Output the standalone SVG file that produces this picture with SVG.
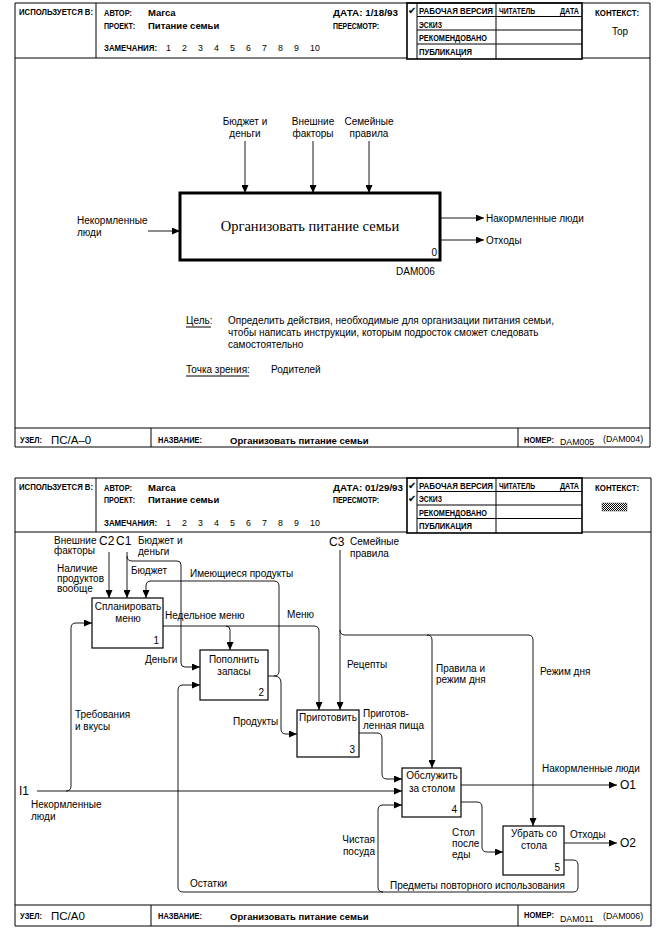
<svg xmlns="http://www.w3.org/2000/svg" width="663" height="937" viewBox="0 0 663 937">
<style>
.ln{fill:none;stroke:#000;stroke-width:1}
.tk{fill:none;stroke:#000;stroke-width:1.6}
.bx{fill:#fff;stroke:#000;stroke-width:1.2}
.cn{fill:none;stroke:#000;stroke-width:0.9}
.h{font-family:"Liberation Sans",Arial,sans-serif;font-weight:bold;font-size:8.8px;fill:#000}
.v{font-family:"Liberation Sans",Arial,sans-serif;font-weight:bold;font-size:9.5px;fill:#000}
.n{font-family:"Liberation Sans",Arial,sans-serif;font-size:8.8px;fill:#000}
.l{font-family:"Liberation Sans",Arial,sans-serif;font-size:10px;fill:#000}
.b{font-family:"Liberation Sans",Arial,sans-serif;font-size:10px;fill:#000;text-anchor:middle}
.num{font-family:"Liberation Sans",Arial,sans-serif;font-size:10px;fill:#000;text-anchor:end}
.c{font-family:"Liberation Sans",Arial,sans-serif;font-size:12px;fill:#000}
.ck{font-family:"DejaVu Sans",sans-serif;font-size:10px;fill:#000}
.big{font-family:"Liberation Sans",Arial,sans-serif;font-size:11.5px;fill:#000}
</style>
<defs>
<marker id="ah" markerWidth="8" markerHeight="7" refX="8" refY="3.5" orient="auto" markerUnits="userSpaceOnUse">
<path d="M0,0 L8,3.5 L0,7 z" fill="#000"/>
</marker>
<pattern id="hatch" width="2" height="2" patternUnits="userSpaceOnUse">
<rect width="2" height="2" fill="#fff"/>
<rect width="1" height="1" fill="#000"/>
<rect x="1" y="1" width="1" height="1" fill="#000"/>
</pattern>
</defs>
<rect width="663" height="937" fill="#fff"/>

<!-- ===== TOP SHEET ===== -->
<g id="sheet1-frame">
<path class="ln" d="M15,3 H650 V447 H15 Z"/>
<path class="ln" d="M96,3 V58 M15,58 H407 M582,58 H650"/>
<rect class="tk" x="407" y="3" width="175" height="56"/>
<path class="ln" d="M417,3 V59 M496,3 V59 M417,16.5 H582 M417,30 H582 M417,44 H582"/>
<path class="ln" d="M15,428 H650 M151,428 V447 M518,428 V447"/>
</g>
<g id="sheet1-header">
<text class="h" x="19" y="15" textLength="74" lengthAdjust="spacingAndGlyphs">ИСПОЛЬЗУЕТСЯ В:</text>
<text class="h" x="104" y="16" textLength="28" lengthAdjust="spacingAndGlyphs">АВТОР:</text>
<text class="v" x="148" y="16">Marca</text>
<text class="h" x="104" y="29" textLength="31" lengthAdjust="spacingAndGlyphs">ПРОЕКТ:</text>
<text class="v" x="148" y="29">Питание семьи</text>
<text class="h" x="104" y="51" textLength="53" lengthAdjust="spacingAndGlyphs">ЗАМЕЧАНИЯ:</text>
<text class="n" y="51"><tspan x="166">1</tspan><tspan x="182">2</tspan><tspan x="198">3</tspan><tspan x="214">4</tspan><tspan x="230">5</tspan><tspan x="246">6</tspan><tspan x="262">7</tspan><tspan x="278">8</tspan><tspan x="294">9</tspan><tspan x="310">10</tspan></text>
<text class="h" x="333" y="16" textLength="65" lengthAdjust="spacingAndGlyphs">ДАТА: 1/18/93</text>
<text class="h" x="333" y="29" textLength="46" lengthAdjust="spacingAndGlyphs">ПЕРЕСМОТР:</text>
<text class="ck" x="408" y="14">✔</text>
<text class="h" x="419" y="14" textLength="74" lengthAdjust="spacingAndGlyphs">РАБОЧАЯ ВЕРСИЯ</text>
<text class="h" x="419" y="27.5" textLength="23" lengthAdjust="spacingAndGlyphs">ЭСКИЗ</text>
<text class="h" x="419" y="41" textLength="68" lengthAdjust="spacingAndGlyphs">РЕКОМЕНДОВАНО</text>
<text class="h" x="419" y="55" textLength="53" lengthAdjust="spacingAndGlyphs">ПУБЛИКАЦИЯ</text>
<text class="h" x="499" y="14" textLength="36" lengthAdjust="spacingAndGlyphs">ЧИТАТЕЛЬ</text>
<text class="h" x="560" y="14" textLength="19" lengthAdjust="spacingAndGlyphs">ДАТА</text>
<text class="h" x="595" y="16" textLength="44" lengthAdjust="spacingAndGlyphs">КОНТЕКСТ:</text>
<text class="l" x="612" y="35" font-size="9">Top</text>
</g>
<g id="sheet1-footer">
<text class="h" x="20" y="443" textLength="22" lengthAdjust="spacingAndGlyphs">УЗЕЛ:</text>
<text class="big" x="51" y="444">ПС/А–0</text>
<text class="h" x="158" y="443" textLength="44" lengthAdjust="spacingAndGlyphs">НАЗВАНИЕ:</text>
<text class="v" x="230" y="444">Организовать питание семьи</text>
<text class="h" x="524" y="443" textLength="30" lengthAdjust="spacingAndGlyphs">НОМЕР:</text>
<text class="n" x="560" y="445" font-size="9.5">DAM005</text>
<text class="n" x="603" y="442">(DAM004)</text>
</g>
<g id="node-A0">
<rect x="180" y="193" width="260" height="67" fill="#fff" stroke="#000" stroke-width="3"/>
<text x="310" y="231" font-family="Liberation Serif,'Times New Roman',serif" font-size="14.5" text-anchor="middle">Организовать питание семьи</text>
<text class="num" x="437" y="256">0</text>
<text class="l" x="396" y="275">DAM006</text>
</g>
<g id="connectors-top">
<path class="cn" d="M245,141 V193" marker-end="url(#ah)"/>
<path class="cn" d="M313,141 V193" marker-end="url(#ah)"/>
<path class="cn" d="M369,141 V193" marker-end="url(#ah)"/>
<path class="cn" d="M148,231 H180" marker-end="url(#ah)"/>
<path class="cn" d="M440,218 H484" marker-end="url(#ah)"/>
<path class="cn" d="M440,240 H484" marker-end="url(#ah)"/>
</g>
<g id="labels-top">
<text class="l" x="245" y="125" text-anchor="middle">Бюджет и</text>
<text class="l" x="245" y="137" text-anchor="middle">деньги</text>
<text class="l" x="313" y="125" text-anchor="middle">Внешние</text>
<text class="l" x="313" y="137" text-anchor="middle">факторы</text>
<text class="l" x="369" y="125" text-anchor="middle">Семейные</text>
<text class="l" x="369" y="137" text-anchor="middle">правила</text>
<text class="l" x="77" y="224">Некормленные</text>
<text class="l" x="77" y="236">люди</text>
<text class="l" x="486" y="222">Накормленные люди</text>
<text class="l" x="486" y="244">Отходы</text>
</g>
<g id="purpose">
<text class="l" x="186" y="324" font-size="9.5">Цель:</text>
<path class="ln" d="M186,327 H211" stroke-width="0.8"/>
<text class="l" x="228" y="324" font-size="9.5">Определить действия, необходимые для организации питания семьи,</text>
<text class="l" x="228" y="336" font-size="9.5">чтобы написать инструкции, которым подросток сможет следовать</text>
<text class="l" x="228" y="348" font-size="9.5">самостоятельно</text>
<text class="l" x="186" y="373" font-size="9.5">Точка зрения:</text>
<path class="ln" d="M186,376 H249" stroke-width="0.8"/>
<text class="l" x="271" y="373" font-size="9.5">Родителей</text>
</g>

<!-- ===== BOTTOM SHEET ===== -->
<g id="sheet2-frame">
<path class="ln" d="M15,478 H651 V926 H15 Z"/>
<path class="ln" d="M96,478 V532 M15,532 H407 M582,532 H651"/>
<rect class="tk" x="407" y="478" width="175" height="55"/>
<path class="ln" d="M417,478 V533 M496,478 V533 M417,491.5 H582 M417,505 H582 M417,518.5 H582"/>
<path class="ln" d="M15,905 H651 M151,905 V926 M518,905 V926"/>
</g>
<g id="sheet2-header">
<text class="h" x="19" y="490" textLength="74" lengthAdjust="spacingAndGlyphs">ИСПОЛЬЗУЕТСЯ В:</text>
<text class="h" x="104" y="491" textLength="28" lengthAdjust="spacingAndGlyphs">АВТОР:</text>
<text class="v" x="148" y="491">Marca</text>
<text class="h" x="104" y="503" textLength="31" lengthAdjust="spacingAndGlyphs">ПРОЕКТ:</text>
<text class="v" x="148" y="503">Питание семьи</text>
<text class="h" x="104" y="526" textLength="53" lengthAdjust="spacingAndGlyphs">ЗАМЕЧАНИЯ:</text>
<text class="n" y="526"><tspan x="166">1</tspan><tspan x="182">2</tspan><tspan x="198">3</tspan><tspan x="214">4</tspan><tspan x="230">5</tspan><tspan x="246">6</tspan><tspan x="262">7</tspan><tspan x="278">8</tspan><tspan x="294">9</tspan><tspan x="310">10</tspan></text>
<text class="h" x="333" y="491" textLength="70" lengthAdjust="spacingAndGlyphs">ДАТА: 01/29/93</text>
<text class="h" x="333" y="503" textLength="46" lengthAdjust="spacingAndGlyphs">ПЕРЕСМОТР:</text>
<text class="ck" x="408" y="489">✔</text>
<text class="ck" x="408" y="502">✔</text>
<text class="h" x="419" y="489" textLength="74" lengthAdjust="spacingAndGlyphs">РАБОЧАЯ ВЕРСИЯ</text>
<text class="h" x="419" y="502" textLength="23" lengthAdjust="spacingAndGlyphs">ЭСКИЗ</text>
<text class="h" x="419" y="515.5" textLength="68" lengthAdjust="spacingAndGlyphs">РЕКОМЕНДОВАНО</text>
<text class="h" x="419" y="529" textLength="53" lengthAdjust="spacingAndGlyphs">ПУБЛИКАЦИЯ</text>
<text class="h" x="499" y="489" textLength="36" lengthAdjust="spacingAndGlyphs">ЧИТАТЕЛЬ</text>
<text class="h" x="560" y="489" textLength="19" lengthAdjust="spacingAndGlyphs">ДАТА</text>
<text class="h" x="595" y="491" textLength="44" lengthAdjust="spacingAndGlyphs">КОНТЕКСТ:</text>
<rect x="602" y="503" width="25" height="8" fill="url(#hatch)" stroke="#555" stroke-width="0.5"/>
</g>
<g id="sheet2-footer">
<text class="h" x="20" y="919" textLength="22" lengthAdjust="spacingAndGlyphs">УЗЕЛ:</text>
<text class="big" x="51" y="920">ПС/А0</text>
<text class="h" x="158" y="919" textLength="44" lengthAdjust="spacingAndGlyphs">НАЗВАНИЕ:</text>
<text class="v" x="230" y="920">Организовать питание семьи</text>
<text class="h" x="524" y="918" textLength="30" lengthAdjust="spacingAndGlyphs">НОМЕР:</text>
<text class="n" x="560" y="922" font-size="9.5">DAM011</text>
<text class="n" x="603" y="919">(DAM006)</text>
</g>

<g id="connectors-A0">
<path class="cn" d="M109,552 V598" marker-end="url(#ah)"/>
<path class="cn" d="M127,552 V598" marker-end="url(#ah)"/>
<path class="cn" d="M127,556 Q127,561 132,561 H177 Q181,561 181,565 V663 Q181,667 185,667 H200" marker-end="url(#ah)"/>
<path class="cn" d="M268,676 H274 Q279,676 279,671 V586 Q279,581 274,581 H151 Q146,581 146,586 V598" marker-end="url(#ah)"/>
<path class="cn" d="M274,676 Q281,676 281,683 V729 Q281,734 286,734 H297" marker-end="url(#ah)"/>
<path class="cn" d="M163,626 H226 Q230,626 230,630 V650" marker-end="url(#ah)"/>
<path class="cn" d="M226,626 H314 Q319,626 319,631 V710" marker-end="url(#ah)"/>
<path class="cn" d="M340,550 V710" marker-end="url(#ah)"/>
<path class="cn" d="M340,630 Q340,635 345,635 H427 Q432,635 432,640 V768" marker-end="url(#ah)"/>
<path class="cn" d="M427,635 H528 Q533,635 533,640 V826" marker-end="url(#ah)"/>
<path class="cn" d="M359,733 H377 Q382,733 382,738 V774 Q382,779 387,779 H402" marker-end="url(#ah)"/>
<path class="cn" d="M37,791 H402" marker-end="url(#ah)"/>
<path class="cn" d="M66,791 Q71,791 71,786 V628 Q71,623 76,623 H92" marker-end="url(#ah)"/>
<path class="cn" d="M461,785 H617" marker-end="url(#ah)"/>
<path class="cn" d="M461,802 H477 Q482,802 482,807 V847 Q482,852 487,852 H503" marker-end="url(#ah)"/>
<path class="cn" d="M564,843 H617" marker-end="url(#ah)"/>
<path class="cn" d="M564,860 H573 Q578,860 578,865 V887 Q578,892 573,892 H183 Q178,892 178,887 V690 Q178,685 183,685 H200" marker-end="url(#ah)"/>
<path class="cn" d="M383,892 Q378,892 378,887 V810 Q378,805 383,805 H402" marker-end="url(#ah)"/>
</g>

<g id="node-1">
<rect class="bx" x="92" y="598" width="71" height="50"/>
<text class="b" x="128" y="610">Спланировать</text>
<text class="b" x="128" y="622">меню</text>
<text class="num" x="159" y="644">1</text>
</g>
<g id="node-2">
<rect class="bx" x="200" y="650" width="68" height="50"/>
<text class="b" x="234" y="663">Пополнить</text>
<text class="b" x="234" y="675">запасы</text>
<text class="num" x="264" y="696">2</text>
</g>
<g id="node-3">
<rect class="bx" x="297" y="710" width="62" height="47"/>
<text class="b" x="328" y="721">Приготовить</text>
<text class="num" x="355" y="753">3</text>
</g>
<g id="node-4">
<rect class="bx" x="402" y="768" width="59" height="49"/>
<text class="b" x="432" y="779">Обслужить</text>
<text class="b" x="432" y="792">за столом</text>
<text class="num" x="457" y="813">4</text>
</g>
<g id="node-5">
<rect class="bx" x="503" y="826" width="61" height="49"/>
<text class="b" x="534" y="837">Убрать со</text>
<text class="b" x="534" y="849">стола</text>
<text class="num" x="560" y="871">5</text>
</g>

<g id="labels-A0">
<text class="l" x="54" y="544">Внешние</text>
<text class="l" x="54" y="554">факторы</text>
<text class="c" x="99" y="545">C2</text>
<text class="c" x="116" y="545">C1</text>
<text class="l" x="138" y="544">Бюджет и</text>
<text class="l" x="138" y="555">деньги</text>
<text class="l" x="57" y="572">Наличие</text>
<text class="l" x="57" y="582">продуктов</text>
<text class="l" x="57" y="592">вообще</text>
<text class="l" x="131" y="574">Бюджет</text>
<text class="l" x="190" y="577">Имеющиеся продукты</text>
<text class="l" x="165" y="619">Недельное меню</text>
<text class="l" x="287" y="618">Меню</text>
<text class="l" x="145" y="663">Деньги</text>
<text class="c" x="329" y="546">C3</text>
<text class="l" x="350" y="545">Семейные</text>
<text class="l" x="350" y="557">правила</text>
<text class="l" x="347" y="668">Рецепты</text>
<text class="l" x="436" y="672">Правила и</text>
<text class="l" x="436" y="683">режим дня</text>
<text class="l" x="540" y="675">Режим дня</text>
<text class="l" x="233" y="725">Продукты</text>
<text class="l" x="75" y="718">Требования</text>
<text class="l" x="75" y="730">и вкусы</text>
<text class="l" x="363" y="717">Приготов-</text>
<text class="l" x="363" y="729">ленная пища</text>
<text class="c" x="19" y="795">I1</text>
<text class="l" x="31" y="808">Некормленные</text>
<text class="l" x="31" y="820">люди</text>
<text class="l" x="542" y="772">Накормленные люди</text>
<text class="c" x="620" y="789">O1</text>
<text class="l" x="452" y="836">Стол</text>
<text class="l" x="452" y="847">после</text>
<text class="l" x="452" y="858">еды</text>
<text class="l" x="570" y="838">Отходы</text>
<text class="c" x="620" y="847">O2</text>
<text class="l" x="375" y="843" text-anchor="end">Чистая</text>
<text class="l" x="375" y="855" text-anchor="end">посуда</text>
<text class="l" x="190" y="887">Остатки</text>
<text class="l" x="390" y="889">Предметы повторного использования</text>
</g>
</svg>
